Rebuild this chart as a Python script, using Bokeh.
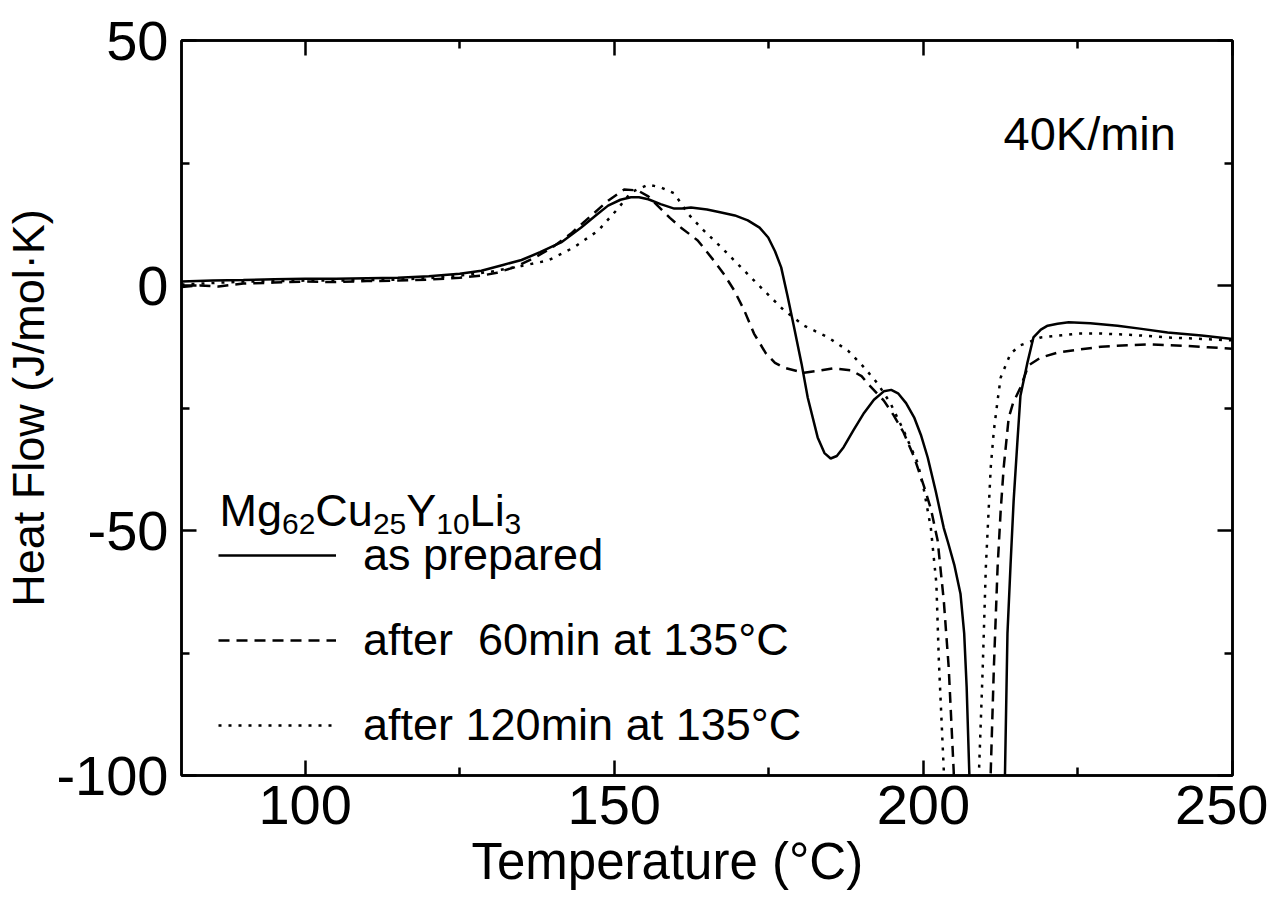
from bokeh.plotting import figure
from bokeh.models import (Range1d, FixedTicker, LinearAxis, Label, Legend, LegendItem, Title,
                          CustomLabelingPolicy)
from bokeh.embed import file_html
from bokeh.resources import INLINE

FONT = "Liberation Sans"

# ---- data ----
T_prep = [80, 85, 90, 95, 100, 105, 110, 115, 120, 125, 128.5, 132, 135, 138, 141.4, 144.6, 147, 149, 151,
          152.7, 154, 155.5, 157.5, 159.7, 161, 162.4, 165, 167.3, 169.5, 171.6, 173.5, 174.9, 176, 177, 178,
          179.1, 180.3, 181.3, 182.9, 184, 185, 186, 187.1, 188.7, 190.4, 192, 193.6, 194.8, 195.9, 197.2,
          198.5, 199.6, 200.7, 202, 203.3, 204, 205, 206, 206.6, 207, 207.4, 208, 209, 210.5, 212, 213.2,
          213.6, 214.1, 214.6, 215.2, 215.7, 216.8, 217.8, 219, 220.1, 221.7, 223.5, 227, 231.4, 235, 239.5,
          245, 250]
HF_prep = [0.8, 1.0, 1.1, 1.3, 1.4, 1.4, 1.5, 1.6, 1.9, 2.4, 3.0, 4.2, 5.2, 6.8, 8.8, 11.8, 14.3, 16.3, 17.5,
           18.0, 18.0, 17.6, 16.6, 15.7, 15.7, 15.9, 15.5, 14.9, 14.3, 13.3, 11.8, 9.8, 7.0, 3.7, -2.0,
           -8.6, -16.0, -22.9, -31.0, -34.2, -35.3, -34.8, -33.0, -29.5, -26.0, -23.3, -21.6, -21.3, -22.0, -24.0,
           -26.9, -30.5, -35.1, -42.0, -49.5, -52.5, -57.0, -62.9, -71.0, -82.0, -98.4, -120, -140, -150, -135, -99.6,
           -71.0, -57.0, -43.9, -32.0, -22.5, -15.9, -10.6, -9.0, -8.2, -7.8, -7.5, -7.7, -8.2, -8.8, -9.6,
           -10.2, -10.9]

T_60 = [80, 83, 86, 90, 95, 100, 105, 110, 115, 120, 125, 128.5, 131, 133.8, 137, 140, 143, 146.3, 149,
        151.6, 153.8, 155.5, 157, 159, 160.8, 163.5, 166.1, 167.8, 169.4, 171, 172.6, 174.5, 176, 177.5,
        180.7, 183, 185.5, 188.3, 190, 191, 193.6, 195.2, 196.8, 198.5, 200.1, 201.2, 202.3, 203.3, 204.1,
        204.9, 205.5, 207, 209, 210.3, 210.9, 211.4, 212, 212.5, 213, 213.8, 214.5, 215.7, 217, 219, 221.7,
        225, 228.7, 233, 236.8, 242, 246, 250]
HF_60 = [-0.3, 0.0, -0.2, 0.4, 0.6, 0.8, 0.7, 0.9, 1.0, 1.2, 1.6, 2.0, 2.6, 3.7, 5.6, 7.8, 10.6, 14.3, 17.3,
         19.6, 19.4, 18.2, 16.3, 13.8, 11.8, 9.2, 5.1, 2.2, -1.0, -5.0, -9.8, -13.8, -15.8, -16.8,
         -17.8, -17.4, -16.9, -17.3, -18.5, -20.0, -23.5, -26.5, -30.0, -35.0, -41.0, -45.5, -52.0, -64.3, -78.0,
         -99.0, -125, -145, -145, -125, -99.0, -78.0, -57.6, -46.0, -37.0, -27.0, -24.0, -20.8, -16.3, -14.7, -13.7,
         -13.1, -12.5, -12.2, -12.0, -12.3, -12.6, -12.9]

T_120 = [80, 85, 90, 95, 100, 105, 110, 115, 120, 125, 130, 135, 139.3, 143.5, 147.4, 150.6, 152.7, 155.5,
         157.6, 159.7, 161.9, 164, 167.3, 170.5, 174.2, 177.4, 180.7, 184.6, 187.8, 190.4, 192.6, 194.7,
         196.8, 199.1, 200.1, 201.2, 202.1, 202.5, 203.3, 204, 205.5, 207.5, 208.5, 209, 209.6, 210.1, 210.9,
         211.4, 212, 212.5, 214.1, 215.7, 219, 225, 228.7, 234, 239.5, 245, 250]
HF_120 = [0.2, 0.5, 0.8, 0.9, 1.0, 1.0, 1.1, 1.2, 1.5, 2.0, 2.8, 4.0, 5.1, 7.8, 11.2, 15.7, 19.0, 20.6,
          20.0, 18.8, 14.7, 11.8, 7.8, 3.7, -1.0, -5.0, -8.2, -10.6, -13.3, -16.7, -20.0, -24.1,
          -29.6, -36.3, -41.8, -49.4, -60.8, -76.5, -99.0, -125, -145, -145, -125, -99.0, -78.0, -57.6, -37.0,
          -29.6, -23.5, -18.8, -13.9, -12.2, -10.6, -9.8, -9.8, -10.1, -10.6, -10.9, -11.2]

series_labels = ["as prepared", "after  60min at 135\u00b0C", "after 120min at 135\u00b0C"]
series_dash = ["solid", "11 7", "3 7"]

x_major = [100, 150, 200, 250]
x_minor = [125, 175, 225]
y_major = [-100, -50, 0, 50]
y_minor = [-75, -25, 25]
y_tick_text = ["-100", "-50", "0", "50"]

x_title = "Temperature (\u00b0C)"
y_title = "Heat Flow (J/mol\u00b7K)"
rate_text = "40K/min"
alloy_parts = [("Mg", False), ("62", True), ("Cu", False), ("25", True), ("Y", False), ("10", True),
               ("Li", False), ("3", True)]

# ---- figure ----
p = figure(width=1268, height=895, output_backend="svg", toolbar_location=None,
           x_range=Range1d(80, 250), y_range=Range1d(-100, 50),
           min_border_left=180, min_border_right=36, min_border_top=40, min_border_bottom=120)
p.xgrid.visible = False
p.ygrid.visible = False
p.outline_line_color = "black"
p.outline_line_width = 2.5
p.background_fill_color = "white"
p.border_fill_color = "white"


def style_axis(ax, labels=True):
    ax.axis_line_width = 2.5
    ax.major_tick_line_width = 2.5
    ax.minor_tick_line_width = 2.5
    ax.major_tick_in = 15
    ax.major_tick_out = 0
    ax.minor_tick_in = 8
    ax.minor_tick_out = 0
    ax.major_label_text_font = FONT
    ax.major_label_text_color = "black"
    if labels:
        ax.major_label_text_font_size = "56px"
    else:
        ax.major_label_text_font_size = "1px"
        ax.major_label_policy = CustomLabelingPolicy(code="return []")
        ax.major_label_standoff = 0


p.xaxis.ticker = FixedTicker(ticks=x_major, minor_ticks=x_minor)
p.yaxis.ticker = FixedTicker(ticks=y_major, minor_ticks=y_minor)
style_axis(p.xaxis[0])
style_axis(p.yaxis[0])
p.xaxis.major_label_standoff = 10
p.yaxis.major_label_standoff = 13
p.yaxis.major_label_overrides = dict(zip(y_major, y_tick_text))

top_ax = LinearAxis(ticker=FixedTicker(ticks=x_major, minor_ticks=x_minor))
style_axis(top_ax, labels=False)
p.add_layout(top_ax, "above")
right_ax = LinearAxis(ticker=FixedTicker(ticks=y_major, minor_ticks=y_minor))
style_axis(right_ax, labels=False)
p.add_layout(right_ax, "right")

# axis titles as side-panel titles
p.add_layout(Title(text=x_title, align="left", offset=290, text_font=FONT, text_font_size="51px",
                   text_font_style="normal", text_color="black", standoff=8), "below")
p.add_layout(Title(text=y_title, align="center", text_font=FONT, text_font_size="45px",
                   text_font_style="normal", text_color="black", standoff=0), "left")

r1 = p.line(T_prep, HF_prep, line_color="black", line_width=2.5, line_dash=series_dash[0])
r2 = p.line(T_60, HF_60, line_color="black", line_width=2.5, line_dash=series_dash[1])
r3 = p.line(T_120, HF_120, line_color="black", line_width=2.5, line_dash=series_dash[2])

legend = Legend(items=[LegendItem(label=series_labels[0], renderers=[r1]),
                       LegendItem(label=series_labels[1], renderers=[r2]),
                       LegendItem(label=series_labels[2], renderers=[r3])],
                location=(37, 24), glyph_width=118, glyph_height=30, label_standoff=27,
                label_text_font=FONT, label_text_font_size="45px", spacing=33, padding=0, margin=0,
                border_line_color=None, background_fill_alpha=0, label_text_color="black")
p.add_layout(legend, "center")

p.add_layout(Label(x=822, y=642, x_units="screen", y_units="screen", text=rate_text,
                   text_font=FONT, text_font_size="47px", text_baseline="alphabetic", text_color="black"))

# alloy composition with subscripts
ARIAL_W = {"M": 0.833, "g": 0.556, "C": 0.722, "u": 0.556, "Y": 0.667, "L": 0.556, "i": 0.222,
           "0": 0.556, "1": 0.556, "2": 0.556, "3": 0.556, "5": 0.556, "6": 0.556}
main_size, sub_size = 45, 30
cx = 38.0
base_y = 265
for txt, sub in alloy_parts:
    size = sub_size if sub else main_size
    p.add_layout(Label(x=cx, y=base_y - (13 if sub else 0), x_units="screen", y_units="screen", text=txt,
                       text_font=FONT, text_font_size=f"{size}px", text_baseline="alphabetic",
                       text_color="black"))
    cx += sum(ARIAL_W[c] for c in txt) * size

open("out.html", "w").write(file_html(p, INLINE))
